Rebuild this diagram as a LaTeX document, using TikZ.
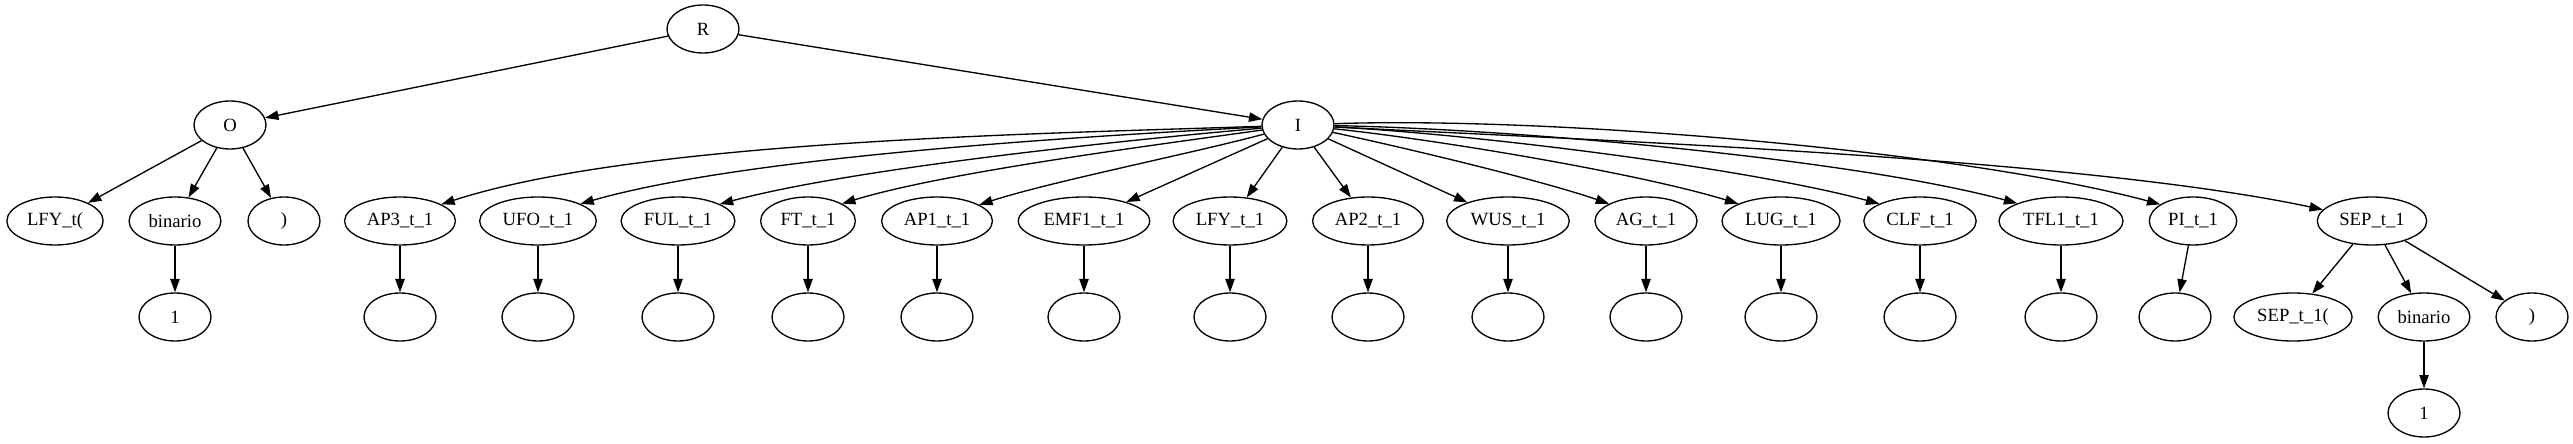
\documentclass[tikz,border=0pt]{standalone}
\usepackage{fontspec}
\setmainfont{Liberation Serif}
\usetikzlibrary{arrows.meta,shapes.geometric}
\tikzset{
    x=0.75pt,
    y=0.75pt,
    vertex/.style = {
        draw,
        shape=ellipse,
        minimum width=54pt,
        minimum height=36pt,
        inner xsep=4.5pt,
        inner ysep=2pt,
        line width=1pt,
        font=\fontsize{14}{16}\selectfont
    },
    edge/.style = {
        draw,
        ->,
        line width=1pt
    },
    spline/.style = {
        edge,
        looseness=0.65
    },
    >={Triangle[length=10pt,width=7pt]},
}
\begin{document}
\begin{tikzpicture}
            \useasboundingbox (0,0) rectangle (2573,443);

            \node[vertex] (root) at (703,414) {R};
            \node[vertex] (o) at (230,318) {O};
            \node[vertex] (i) at (1298,318) {I};

            % children of O
            \node[vertex] (lfyopen) at (55,222) {LFY\_t(};
            \node[vertex] (binl) at (175,222) {binario};
            \node[vertex] (closel) at (284,222) {)};
            \node[vertex] (onel) at (175,126) {1};

            % children of I
            \node[vertex] (ap3) at (400,222) {AP3\_t\_1};
            \node[vertex] (ufo) at (538,222) {UFO\_t\_1};
            \node[vertex] (ful) at (678,222) {FUL\_t\_1};
            \node[vertex] (ft) at (808,222) {FT\_t\_1};
            \node[vertex] (ap1) at (937,222) {AP1\_t\_1};
            \node[vertex] (emf1) at (1084,222) {EMF1\_t\_1};
            \node[vertex] (lfy) at (1230,222) {LFY\_t\_1};
            \node[vertex] (ap2) at (1368,222) {AP2\_t\_1};
            \node[vertex] (wus) at (1508,222) {WUS\_t\_1};
            \node[vertex] (ag) at (1646,222) {AG\_t\_1};
            \node[vertex] (lug) at (1781,222) {LUG\_t\_1};
            \node[vertex] (clf) at (1920,222) {CLF\_t\_1};
            \node[vertex] (tfl1) at (2061,222) {TFL1\_t\_1};
            \node[vertex] (pi) at (2193,222) {PI\_t\_1};
            \node[vertex] (sep) at (2372,222) {SEP\_t\_1};

            % empty leaves
            \node[vertex] (ap3e) at (400,126) {};
            \node[vertex] (ufoe) at (538,126) {};
            \node[vertex] (fule) at (678,126) {};
            \node[vertex] (fte) at (808,126) {};
            \node[vertex] (ap1e) at (937,126) {};
            \node[vertex] (emf1e) at (1084,126) {};
            \node[vertex] (lfye) at (1230,126) {};
            \node[vertex] (ap2e) at (1368,126) {};
            \node[vertex] (wuse) at (1508,126) {};
            \node[vertex] (age) at (1646,126) {};
            \node[vertex] (luge) at (1781,126) {};
            \node[vertex] (clfe) at (1920,126) {};
            \node[vertex] (tfl1e) at (2061,126) {};
            \node[vertex] (pie) at (2175,126) {};

            % children of SEP
            \node[vertex] (sepopen) at (2293,126) {SEP\_t\_1(};
            \node[vertex] (binr) at (2424,126) {binario};
            \node[vertex] (closer) at (2532,126) {)};
            \node[vertex] (oner) at (2424,30) {1};

            \path[edge] (root) -- (o);
            \path[edge] (root) -- (i);

            \path[edge] (o) -- (lfyopen);
            \path[edge] (o) -- (binl);
            \path[edge] (o) -- (closel);
            \path[edge] (binl) -- (onel);

            \path[spline] (i) to[out=182, in=18] (ap3.22);
            \path[spline] (i) to[out=183, in=16] (ufo.22);
            \path[spline] (i) to[out=185, in=15] (ful.22);
            \path[spline] (i) to[out=188, in=17] (ft.27);
            \path[spline] (i) to[out=195, in=18] (ap1.21);
            \path[edge] (i) -- (emf1);
            \path[edge] (i) -- (lfy);
            \path[edge] (i) -- (ap2);
            \path[edge] (i) -- (wus);
            \path[spline] (i) to[out=-12, in=161] (ag.155);
            \path[spline] (i) to[out=-6, in=163] (lug.158);
            \path[spline] (i) to[out=-3, in=165] (clf.157);
            \path[spline] (i) to[out=-1, in=165] (tfl1.158);
            \path[spline] (i) to[out=2, in=165] (pi.153);
            \path[spline] (i) to[out=-3, in=168] (sep.167);

            \path[edge] (ap3) -- (ap3e);
            \path[edge] (ufo) -- (ufoe);
            \path[edge] (ful) -- (fule);
            \path[edge] (ft) -- (fte);
            \path[edge] (ap1) -- (ap1e);
            \path[edge] (emf1) -- (emf1e);
            \path[edge] (lfy) -- (lfye);
            \path[edge] (ap2) -- (ap2e);
            \path[edge] (wus) -- (wuse);
            \path[edge] (ag) -- (age);
            \path[edge] (lug) -- (luge);
            \path[edge] (clf) -- (clfe);
            \path[edge] (tfl1) -- (tfl1e);
            \path[edge] (pi) -- (pie);

            \path[edge] (sep) -- (sepopen);
            \path[edge] (sep) -- (binr);
            \path[edge] (sep) -- (closer);
            \path[edge] (binr) -- (oner);

        \end{tikzpicture}
\end{document}
